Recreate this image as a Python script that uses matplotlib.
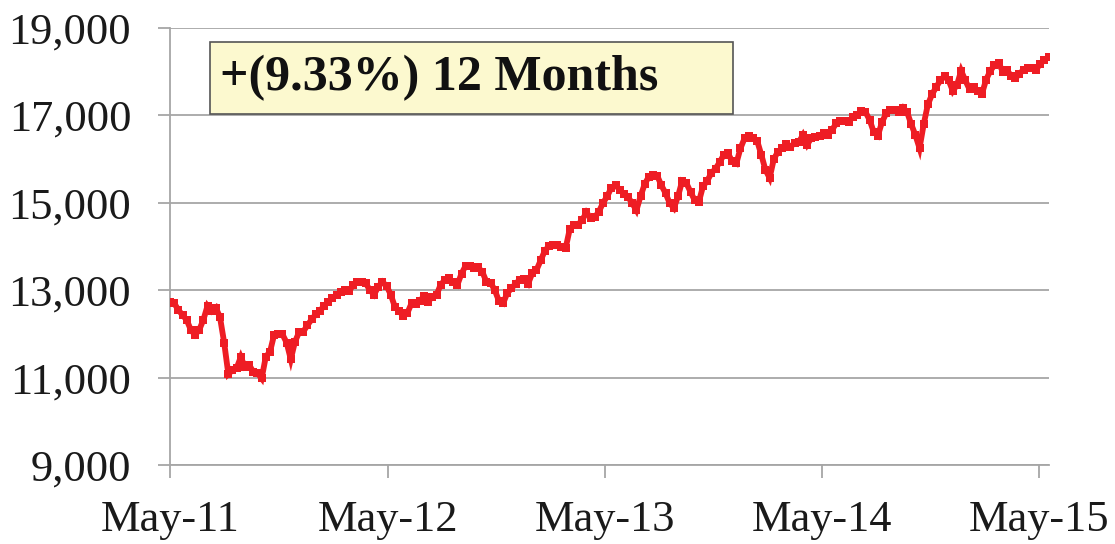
import pandas as pd
import matplotlib.pyplot as plt
from matplotlib.patches import Rectangle
from matplotlib.ticker import FuncFormatter

# weekly index values (May 2011 - May 2015)
start_date = '2011-05-06'
values = [
    12730, 12700, 12550, 12430, 12320, 12090, 11980, 12090, 12320, 12640,
    12520, 12600, 12380, 11800, 11080, 11170, 11220, 11470, 11240, 11290,
    11130, 11100, 10980, 11480, 11590, 11980, 12000, 11990, 11800, 11420,
    11820, 12040, 12050, 12200, 12330, 12450, 12530, 12640, 12740, 12820,
    12890, 12950, 13000, 12980, 13120, 13190, 13190, 13160, 13000, 12900,
    13080, 13190, 13100, 12900, 12620, 12520, 12420, 12480, 12700, 12680,
    12760, 12860, 12740, 12850, 12890, 13130, 13230, 13270, 13180, 13120,
    13380, 13560, 13550, 13500, 13520, 13420, 13190, 13170, 13000, 12750,
    12700, 12940, 13040, 13150, 13240, 13250, 13150, 13390, 13460, 13680,
    13900, 14010, 14030, 14030, 13990, 13960, 14400, 14490, 14500, 14610,
    14780, 14660, 14670, 14800, 15000, 15150, 15350, 15400, 15300, 15200,
    15130, 14990, 14830, 15150, 15430, 15600, 15640, 15620, 15400, 15220,
    14990, 14880, 15150, 15500, 15450, 15250, 15060, 15020, 15380, 15500,
    15680, 15780, 15930, 16100, 16130, 15950, 15900, 16250, 16480, 16540,
    16480, 16420, 16100, 15750, 15570, 16000, 16170, 16250, 16350, 16280,
    16370, 16390, 16550, 16330, 16480, 16500, 16530, 16600, 16560, 16670,
    16820, 16880, 16870, 16850, 16970, 17010, 17100, 17080, 16900, 16620,
    16540, 16850, 17050, 17120, 17120, 17080, 17180, 17080, 16800, 16550,
    16250, 16800, 17250, 17480, 17650, 17800, 17900, 17800, 17560, 17700,
    18020, 17800, 17600, 17650, 17550, 17500, 17820, 18020, 18150, 18200,
    18000, 18040, 17900, 17850, 17950, 18050, 18080, 18080, 18050, 18180,
    18270, 18340,
]
dates = pd.date_range(start_date, periods=len(values), freq='7D')

tick_dates = pd.to_datetime(['2011-05-06', '2012-05-06', '2013-05-06', '2014-05-06', '2015-05-06'])
tick_labels = ['May-11', 'May-12', 'May-13', 'May-14', 'May-15']
y_ticks = [9000, 11000, 13000, 15000, 17000, 19000]
note = '+(9.33%) 12 Months'

plt.rcParams['font.family'] = ['Liberation Serif', 'DejaVu Serif']

fig = plt.figure(figsize=(11.15, 5.44), dpi=100)
ax = fig.add_axes([0.1525, 0.1452, 0.7885, 0.8033])

ax.plot(dates, values, color='#EE1D24', linewidth=4.2, marker='s', markersize=6,
        markeredgewidth=0, solid_joinstyle='miter', zorder=3)

ax.set_ylim(9000, 19000)
ax.set_yticks(y_ticks)
ax.yaxis.set_major_formatter(FuncFormatter(lambda v, p: f'{int(v):,}'))
ax.set_xlim(dates[0], dates[-1] + pd.Timedelta(days=1))
ax.set_xticks(tick_dates)
ax.set_xticklabels(tick_labels)

ax.grid(axis='y', color='#A6A6A6', linewidth=1.3)
ax.set_axisbelow(True)
for s in ['top', 'right']:
    ax.spines[s].set_visible(False)
for s in ['left', 'bottom']:
    ax.spines[s].set_color('#A6A6A6')
    ax.spines[s].set_linewidth(1.3)

ax.tick_params(axis='y', length=9, width=1.3, color='#A6A6A6', labelsize=32, pad=19,
               labelcolor='#1a1a1a')
ax.tick_params(axis='x', length=9, width=1.3, color='#A6A6A6', labelsize=32, pad=16,
               labelcolor='#1a1a1a')

# label box
fig.patches.append(Rectangle((0.1883, 0.7904), 0.469, 0.1324, transform=fig.transFigure,
                             facecolor='#FCF9CF', edgecolor='#555555', linewidth=1.2, zorder=5))
fig.text(0.1975, 0.856, note, fontsize=36, fontweight='bold', va='center', ha='left',
         color='#111111', zorder=6)

plt.savefig('out.png', dpi=100)
